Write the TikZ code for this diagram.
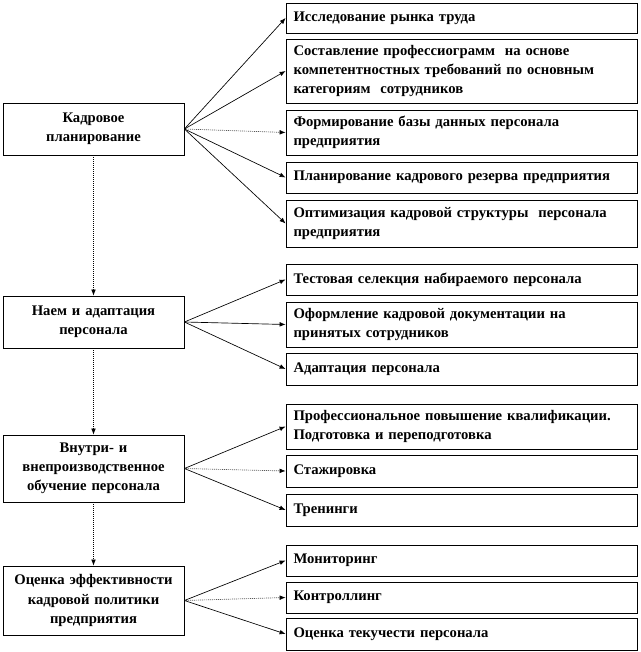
\documentclass[tikz,border=0pt]{standalone}
\usepackage{fontspec}
\setmainfont{Liberation Serif}
\usetikzlibrary{arrows.meta}

\begin{document}
\begin{tikzpicture}[
        x=0.75pt, y=-0.75pt,
        every node/.style={font=\bfseries\fontsize{11}{14.3}\selectfont},
        stage/.style={
            draw,
            line width=0.6pt,
            minimum width=135.75pt,
            text width=131pt,
            align=center,
            inner sep=2pt
        },
        task/.style={
            draw,
            line width=0.6pt,
            minimum width=263.25pt,
            text width=252pt,
            align=left,
            inner sep=4pt
        },
        arrow/.style={-{Latex[length=4.5pt,width=3.5pt]}, line width=0.5pt},
        dotarrow/.style={arrow, densely dotted}
    ]

        \useasboundingbox (0,0) rectangle (640,652);

        % left column
        \node[stage, minimum height=39pt]   (plan) at (93.5,129)   {Кадровое\\планирование};
        \node[stage, minimum height=39pt]   (hire) at (93.5,322)   {Наем и адаптация\\персонала};
        \node[stage, minimum height=50.25pt] (edu)  at (93.5,468.5) {Внутри- и\\внепроизводственное\\обучение персонала};
        \node[stage, minimum height=51.75pt] (eval) at (93.5,600.5) {Оценка эффективности\\кадровой политики\\предприятия};

        % right column
        \node[task, minimum height=22.5pt] (p1) at (461.5,18)  {Исследование рынка труда};
        \node[task, minimum height=48pt]   (p2) at (461.5,71)  {Составление профессиограмм\ \ на основе\\компетентностных требований по основным\\категориям\ \ сотрудников};
        \node[task, minimum height=33.75pt] (p3) at (461.5,132.5) {Формирование базы данных персонала\\предприятия};
        \node[task, minimum height=23.25pt] (p4) at (461.5,177.5) {Планирование кадрового резерва предприятия};
        \node[task, minimum height=35.25pt] (p5) at (461.5,223.5) {Оптимизация кадровой структуры\ \ персонала\\предприятия};

        \node[task, minimum height=23.25pt] (h1) at (461.5,279.5) {Тестовая селекция набираемого персонала};
        \node[task, minimum height=33.75pt] (h2) at (461.5,324.5) {Оформление кадровой документации на\\принятых сотрудников};
        \node[task, minimum height=24pt]    (h3) at (461.5,369)   {Адаптация персонала};

        \node[task, minimum height=33.75pt] (e1) at (461.5,426.5) {Профессиональное повышение квалификации.\\Подготовка и переподготовка};
        \node[task, minimum height=24pt]    (e2) at (461.5,471)   {Стажировка};
        \node[task, minimum height=24pt]    (e3) at (461.5,510)   {Тренинги};

        \node[task, minimum height=23.25pt] (v1) at (461.5,560.5) {Мониторинг};
        \node[task, minimum height=23.25pt] (v2) at (461.5,597.5) {Контроллинг};
        \node[task, minimum height=24pt]    (v3) at (461.5,634)   {Оценка текучести персонала};

        % stages
        \draw[dotarrow] (plan.south) -- (hire.north);
        \draw[dotarrow] (hire.south) -- (edu.north);
        \draw[dotarrow] (edu.south) -- (eval.north);

        % tasks
        \draw[arrow]    (plan.east) -- (p1.west);
        \draw[arrow]    (plan.east) -- (p2.west);
        \draw[dotarrow] (plan.east) -- (p3.west);
        \draw[arrow]    (plan.east) -- (p4.west);
        \draw[arrow]    (plan.east) -- (p5.west);

        \draw[arrow] (hire.east) -- (h1.west);
        \draw[arrow] (hire.east) -- (h2.west);
        \draw[arrow] (hire.east) -- (h3.west);

        \draw[arrow]    (edu.east) -- (e1.west);
        \draw[dotarrow] (edu.east) -- (e2.west);
        \draw[arrow]    (edu.east) -- (e3.west);

        \draw[arrow]    (eval.east) -- (v1.west);
        \draw[dotarrow] (eval.east) -- (v2.west);
        \draw[arrow]    (eval.east) -- (v3.west);

    \end{tikzpicture}
\end{document}
